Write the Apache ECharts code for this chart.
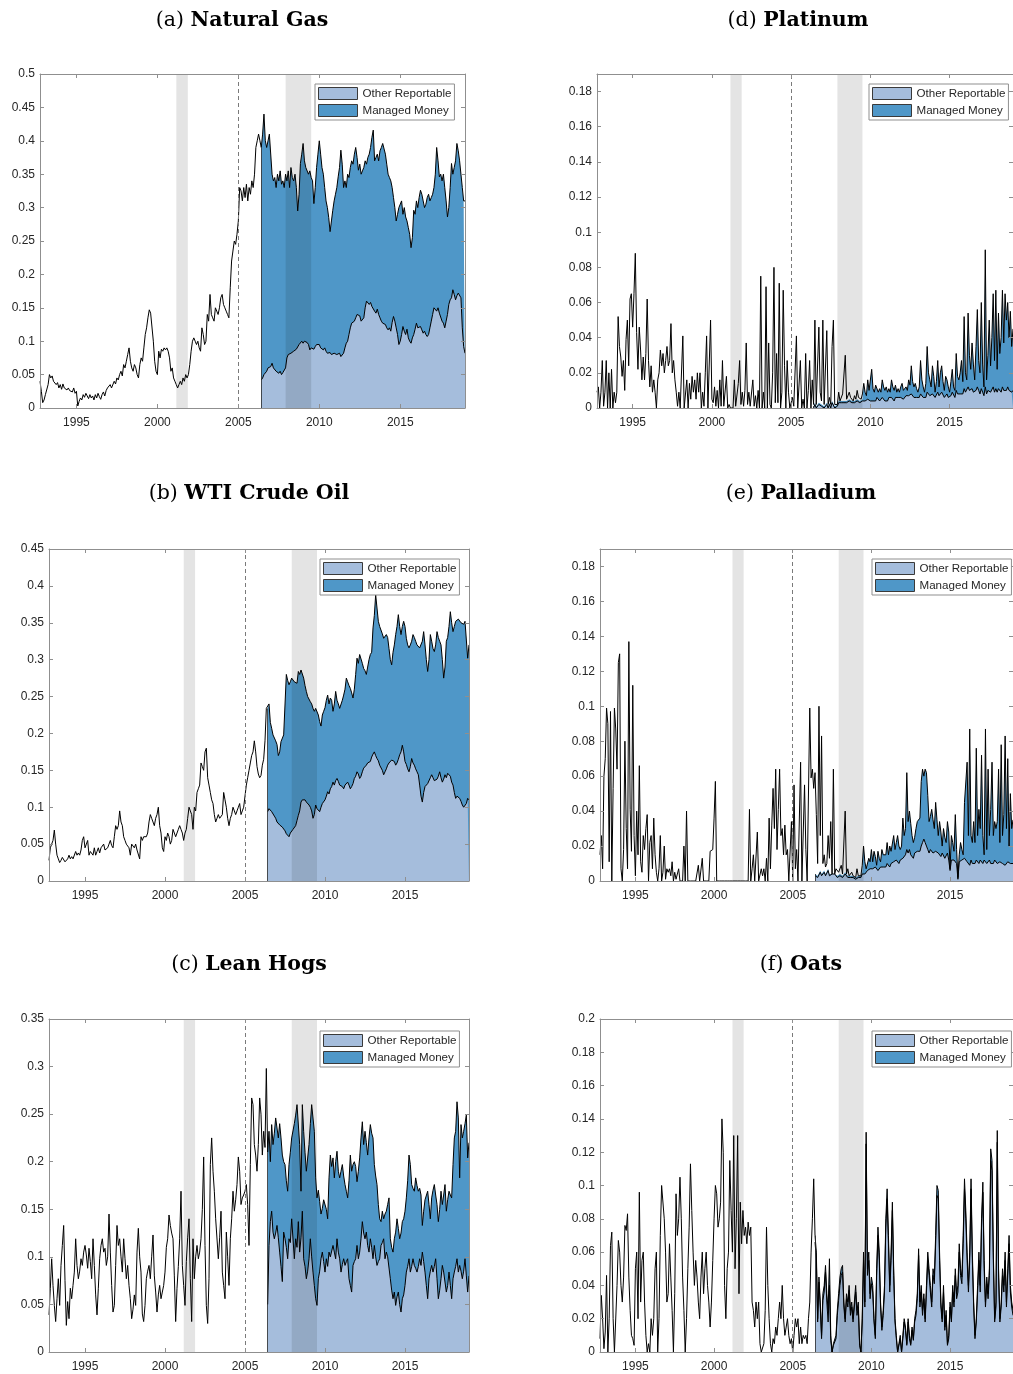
<!DOCTYPE html>
<html>
<head>
<meta charset="utf-8">
<script src="https://cdn.jsdelivr.net/npm/echarts@6/dist/echarts.min.js"></script>
<style>
  html, body { margin: 0; padding: 0; background: #ffffff; }
  #chart { width: 1013px; height: 1374px; }
</style>
</head>
<body>
<div id="chart"></div>
<script>
// Monthly observations from October 1992 to January 2019 (one value per month).
const seriesStart = 1992.75;
// June 2006: first month with the Other Reportable / Managed Money split.
const stackStartIndex = 164;

const yearTicks = [1995, 2000, 2005, 2010, 2015];
const policyYear = 2005;
// NBER recessions: Mar-Nov 2001 and Dec 2007-Jun 2009.
const recessions = [[2001.17, 2001.88], [2007.92, 2009.5]];

const gasTicks  = [0, 0.05, 0.1, 0.15, 0.2, 0.25, 0.3, 0.35, 0.4, 0.45, 0.5];
const wtiTicks  = [0, 0.05, 0.1, 0.15, 0.2, 0.25, 0.3, 0.35, 0.4, 0.45];
const hogsTicks = [0, 0.05, 0.1, 0.15, 0.2, 0.25, 0.3, 0.35];
const platTicks = [0, 0.02, 0.04, 0.06, 0.08, 0.1, 0.12, 0.14, 0.16, 0.18];
const pallTicks = [0, 0.02, 0.04, 0.06, 0.08, 0.1, 0.12, 0.14, 0.16, 0.18];
const oatsTicks = [0, 0.02, 0.04, 0.06, 0.08, 0.1, 0.12, 0.14, 0.16, 0.18, 0.2];

// ---- (a) Natural Gas ----
const gasTotal = [
  0.04, 0.025, 0.008,
  0.012, 0.02, 0.018, 0.035, 0.05, 0.045, 0.048, 0.04, 0.042, 0.035, 0.038, 0.03,
  0.035, 0.028, 0.036, 0.03, 0.032, 0.027, 0.03, 0.026, 0.028, 0.024, 0.03, 0.022,
  0.025, 0.003, 0.01, 0.015, 0.012, 0.02, 0.016, 0.022, 0.018, 0.014, 0.02, 0.015,
  0.018, 0.012, 0.02, 0.015, 0.022, 0.017, 0.013, 0.02, 0.024, 0.018, 0.026, 0.03,
  0.028, 0.035, 0.03, 0.032, 0.04, 0.036, 0.045, 0.042, 0.05, 0.055, 0.048, 0.065,
  0.06, 0.07, 0.08, 0.09, 0.07, 0.06, 0.055, 0.065, 0.06, 0.05, 0.045, 0.065,
  0.075, 0.07, 0.09, 0.11, 0.12, 0.135, 0.147, 0.142, 0.14, 0.1, 0.07, 0.055,
  0.05, 0.085, 0.075, 0.088, 0.085, 0.09, 0.087, 0.09, 0.085, 0.075, 0.055, 0.06,
  0.045, 0.04, 0.035, 0.03, 0.035, 0.04, 0.035, 0.045, 0.04, 0.05, 0.045, 0.05,
  0.065, 0.085, 0.1, 0.105, 0.1, 0.095, 0.1, 0.09, 0.085, 0.12, 0.11, 0.095,
  0.1, 0.14, 0.13, 0.17, 0.14, 0.135, 0.13, 0.15, 0.145, 0.14, 0.15, 0.165,
  0.17, 0.155, 0.15, 0.145, 0.14, 0.135, 0.18, 0.22, 0.235, 0.25, 0.245, 0.26,
  0.28, 0.33, 0.325, 0.31, 0.33, 0.315, 0.335, 0.31, 0.33, 0.32, 0.34, 0.33,
  0.35, 0.39, 0.4, 0.41, 0.4, 0.39, 0.41, 0.44, 0.4, 0.39, 0.4, 0.41,
  0.41, 0.35, 0.34, 0.345, 0.33, 0.35, 0.34, 0.355, 0.335, 0.34, 0.33, 0.35,
  0.34, 0.355, 0.33, 0.36, 0.345, 0.34, 0.35, 0.33, 0.295, 0.32, 0.366, 0.38,
  0.396, 0.37, 0.36, 0.36, 0.35, 0.355, 0.345, 0.34, 0.306, 0.33, 0.36, 0.38,
  0.4, 0.38, 0.36, 0.35, 0.33, 0.31, 0.3, 0.285, 0.264, 0.28, 0.296, 0.31,
  0.32, 0.33, 0.346, 0.36, 0.386, 0.365, 0.33, 0.34, 0.33, 0.35, 0.345, 0.36,
  0.37, 0.365, 0.38, 0.39, 0.375, 0.356, 0.365, 0.35, 0.355, 0.36, 0.37, 0.365,
  0.375, 0.38, 0.39, 0.405, 0.416, 0.37, 0.375, 0.38, 0.37, 0.385, 0.39, 0.396,
  0.396, 0.38, 0.365, 0.35, 0.345, 0.34, 0.33, 0.315, 0.3, 0.28, 0.29, 0.3,
  0.3, 0.31, 0.29, 0.3, 0.286, 0.28, 0.27, 0.26, 0.24, 0.255, 0.296, 0.29,
  0.31, 0.3, 0.315, 0.326, 0.32, 0.31, 0.3, 0.305, 0.315, 0.32, 0.31, 0.315,
  0.32, 0.33, 0.35, 0.39, 0.37, 0.346, 0.35, 0.34, 0.35, 0.33, 0.31, 0.286,
  0.3, 0.33, 0.366, 0.35, 0.36, 0.37, 0.396, 0.385, 0.37, 0.35, 0.33, 0.31,
  0.31
];
const gasOther = [
  0.042, 0.045, 0.05, 0.052, 0.055, 0.06, 0.058,
  0.062, 0.067, 0.06, 0.058, 0.055, 0.057, 0.052, 0.055, 0.05, 0.053, 0.052, 0.06,
  0.075, 0.08, 0.078, 0.082, 0.08, 0.085, 0.083, 0.088, 0.09, 0.095, 0.097, 0.1,
  0.097, 0.1, 0.102, 0.098, 0.095, 0.087, 0.09, 0.092, 0.088, 0.092, 0.095, 0.093,
  0.095, 0.09, 0.092, 0.087, 0.09, 0.085, 0.082, 0.08, 0.083, 0.08, 0.078, 0.082,
  0.082, 0.08, 0.078, 0.082, 0.077, 0.075, 0.082, 0.09, 0.097, 0.1, 0.11, 0.12,
  0.127, 0.125, 0.13, 0.135, 0.14, 0.142, 0.138, 0.13, 0.132, 0.135, 0.15, 0.16,
  0.162, 0.155, 0.158, 0.152, 0.15, 0.145, 0.142, 0.148, 0.14, 0.135, 0.13, 0.127,
  0.127, 0.125, 0.12, 0.117, 0.12, 0.115, 0.128, 0.137, 0.13, 0.12, 0.11, 0.095,
  0.1, 0.11, 0.122, 0.115, 0.11, 0.118, 0.105, 0.1, 0.097, 0.105, 0.11, 0.118,
  0.127, 0.12, 0.118, 0.122, 0.117, 0.112, 0.115, 0.11, 0.107, 0.11, 0.12, 0.13,
  0.14, 0.15, 0.152, 0.145, 0.15, 0.142, 0.14, 0.13, 0.127, 0.12, 0.13, 0.14,
  0.155, 0.162, 0.165, 0.177, 0.17, 0.162, 0.168, 0.172, 0.17, 0.165, 0.12, 0.092,
  0.082
];

// ---- (b) WTI Crude Oil ----
const wtiTotal = [
  0.028, 0.045, 0.05,
  0.055, 0.069, 0.05, 0.035, 0.03, 0.025, 0.028, 0.032, 0.03, 0.026, 0.025, 0.03,
  0.035, 0.03, 0.033, 0.03, 0.028, 0.04, 0.035, 0.038, 0.035, 0.042, 0.055, 0.06,
  0.045, 0.05, 0.055, 0.035, 0.04, 0.04, 0.035, 0.045, 0.035, 0.04, 0.045, 0.038,
  0.045, 0.045, 0.05, 0.042, 0.04, 0.045, 0.05, 0.055, 0.048, 0.045, 0.06, 0.075,
  0.07, 0.075, 0.095, 0.08, 0.075, 0.06, 0.055, 0.05, 0.052, 0.045, 0.035, 0.05,
  0.048, 0.045, 0.05, 0.042, 0.04, 0.03, 0.06, 0.055, 0.06, 0.058, 0.06, 0.065,
  0.08, 0.09, 0.085, 0.08, 0.075, 0.085, 0.09, 0.1, 0.075, 0.065, 0.045, 0.04,
  0.06, 0.055, 0.065, 0.06, 0.05, 0.055, 0.07, 0.065, 0.06, 0.06, 0.07, 0.075,
  0.07, 0.065, 0.055, 0.065, 0.07, 0.085, 0.1, 0.095, 0.09, 0.07, 0.1, 0.095,
  0.12, 0.125, 0.13, 0.16, 0.155, 0.15, 0.175, 0.18, 0.14, 0.13, 0.12, 0.11,
  0.105, 0.09, 0.08, 0.085, 0.09, 0.085, 0.085, 0.09, 0.12, 0.11, 0.1, 0.085,
  0.075, 0.085, 0.09, 0.1, 0.095, 0.09, 0.095, 0.1, 0.105, 0.09, 0.095, 0.1,
  0.1, 0.13, 0.14, 0.15, 0.16, 0.17, 0.175, 0.19, 0.175, 0.155, 0.145, 0.14,
  0.143, 0.157, 0.165, 0.19, 0.234, 0.234, 0.24, 0.215, 0.207, 0.198, 0.2, 0.19,
  0.185, 0.17, 0.175, 0.189, 0.19, 0.198, 0.2, 0.28, 0.272, 0.266, 0.27, 0.275,
  0.275, 0.27, 0.27, 0.268, 0.284, 0.28, 0.286, 0.288, 0.275, 0.265, 0.257, 0.25,
  0.248, 0.243, 0.24, 0.234, 0.23, 0.234, 0.234, 0.225, 0.216, 0.21, 0.225, 0.23,
  0.235, 0.245, 0.252, 0.24, 0.248, 0.245, 0.23, 0.24, 0.257, 0.245, 0.24, 0.234,
  0.234, 0.245, 0.252, 0.26, 0.275, 0.27, 0.265, 0.261, 0.255, 0.248, 0.26, 0.28,
  0.302, 0.295, 0.307, 0.305, 0.295, 0.288, 0.285, 0.28, 0.29, 0.3, 0.307, 0.31,
  0.343, 0.36, 0.388, 0.37, 0.352, 0.345, 0.343, 0.335, 0.329, 0.33, 0.334, 0.33,
  0.315, 0.3, 0.293, 0.31, 0.32, 0.334, 0.345, 0.361, 0.345, 0.334, 0.345, 0.352,
  0.345, 0.329, 0.32, 0.316, 0.32, 0.325, 0.334, 0.33, 0.325, 0.32, 0.318, 0.316,
  0.316, 0.325, 0.338, 0.32, 0.3, 0.284, 0.3, 0.334, 0.325, 0.315, 0.311, 0.32,
  0.338, 0.33, 0.325, 0.32, 0.3, 0.275, 0.29, 0.325, 0.33, 0.345, 0.365, 0.35,
  0.338, 0.345, 0.352, 0.35, 0.355, 0.356, 0.35, 0.352, 0.348, 0.352, 0.35, 0.302,
  0.32
];
const wtiOther = [
  0.094, 0.098, 0.096, 0.094, 0.092, 0.088, 0.085,
  0.08, 0.078, 0.076, 0.075, 0.073, 0.071, 0.068, 0.064, 0.062, 0.06, 0.065, 0.067,
  0.07, 0.071, 0.075, 0.082, 0.089, 0.095, 0.107, 0.11, 0.112, 0.11, 0.107, 0.105,
  0.103, 0.1, 0.095, 0.085, 0.09, 0.103, 0.098, 0.1, 0.094, 0.1, 0.105, 0.107,
  0.11, 0.115, 0.121, 0.118, 0.125, 0.128, 0.134, 0.13, 0.136, 0.139, 0.135, 0.13,
  0.13, 0.128, 0.125, 0.13, 0.128, 0.134, 0.13, 0.125, 0.128, 0.132, 0.139, 0.142,
  0.148, 0.145, 0.139, 0.142, 0.148, 0.153, 0.155, 0.157, 0.16, 0.158, 0.162, 0.168,
  0.172, 0.175, 0.17, 0.166, 0.163, 0.157, 0.155, 0.15, 0.144, 0.148, 0.152, 0.157,
  0.16, 0.162, 0.164, 0.166, 0.162, 0.157, 0.16, 0.165, 0.171, 0.175, 0.184, 0.175,
  0.162, 0.158, 0.152, 0.148, 0.155, 0.166, 0.16, 0.157, 0.152, 0.148, 0.144, 0.13,
  0.115, 0.107, 0.12, 0.128, 0.13, 0.132, 0.134, 0.14, 0.144, 0.14, 0.136, 0.134,
  0.138, 0.142, 0.148, 0.14, 0.134, 0.138, 0.144, 0.14, 0.146, 0.148, 0.142, 0.134,
  0.13, 0.12, 0.112, 0.115, 0.116, 0.112, 0.108, 0.103, 0.1, 0.098, 0.105, 0.112,
  0.11
];

// ---- (c) Lean Hogs ----
const hogsTotal = [
  0.039, 0.067, 0.098,
  0.07, 0.049, 0.032, 0.056, 0.077, 0.049, 0.091, 0.112, 0.133, 0.075, 0.028, 0.053,
  0.035, 0.067, 0.056, 0.07, 0.084, 0.119, 0.091, 0.077, 0.085, 0.098, 0.091, 0.105,
  0.112, 0.102, 0.088, 0.109, 0.095, 0.077, 0.119, 0.091, 0.06, 0.039, 0.067, 0.098,
  0.112, 0.119, 0.105, 0.109, 0.091, 0.1, 0.145, 0.105, 0.07, 0.042, 0.049, 0.091,
  0.133, 0.112, 0.119, 0.1, 0.084, 0.119, 0.098, 0.077, 0.091, 0.07, 0.056, 0.035,
  0.045, 0.06, 0.049, 0.105, 0.13, 0.1, 0.084, 0.04, 0.032, 0.049, 0.077, 0.085,
  0.091, 0.077, 0.1, 0.123, 0.08, 0.063, 0.042, 0.06, 0.07, 0.056, 0.063, 0.07,
  0.084, 0.11, 0.119, 0.144, 0.133, 0.125, 0.119, 0.08, 0.032, 0.067, 0.09, 0.119,
  0.169, 0.091, 0.07, 0.049, 0.095, 0.12, 0.14, 0.077, 0.032, 0.119, 0.077, 0.1,
  0.112, 0.098, 0.105, 0.119, 0.15, 0.205, 0.112, 0.049, 0.03, 0.077, 0.197, 0.225,
  0.19, 0.169, 0.14, 0.14, 0.098, 0.12, 0.148, 0.084, 0.07, 0.056, 0.126, 0.1,
  0.07, 0.119, 0.14, 0.169, 0.148, 0.16, 0.176, 0.205, 0.19, 0.155, 0.162, 0.165,
  0.169, 0.176, 0.155, 0.112, 0.197, 0.267, 0.26, 0.218, 0.207, 0.19, 0.218, 0.267,
  0.25, 0.207, 0.232, 0.215, 0.298, 0.21, 0.232, 0.2, 0.239, 0.218, 0.23, 0.246,
  0.246, 0.225, 0.24, 0.225, 0.207, 0.2, 0.197, 0.18, 0.169, 0.197, 0.21, 0.225,
  0.225, 0.24, 0.249, 0.26, 0.26, 0.218, 0.169, 0.26, 0.232, 0.21, 0.19, 0.19,
  0.218, 0.24, 0.26, 0.258, 0.232, 0.183, 0.162, 0.17, 0.158, 0.145, 0.151, 0.16,
  0.162, 0.15, 0.14, 0.183, 0.207, 0.195, 0.204, 0.183, 0.2, 0.211, 0.19, 0.183,
  0.19, 0.197, 0.185, 0.176, 0.169, 0.162, 0.18, 0.207, 0.19, 0.197, 0.2, 0.195,
  0.179, 0.19, 0.204, 0.225, 0.242, 0.218, 0.232, 0.22, 0.207, 0.225, 0.239, 0.23,
  0.225, 0.197, 0.185, 0.176, 0.155, 0.14, 0.137, 0.148, 0.14, 0.145, 0.148, 0.155,
  0.162, 0.119, 0.11, 0.105, 0.119, 0.126, 0.14, 0.13, 0.119, 0.125, 0.137, 0.14,
  0.148, 0.162, 0.18, 0.207, 0.197, 0.176, 0.172, 0.169, 0.183, 0.175, 0.169, 0.172,
  0.165, 0.133, 0.148, 0.16, 0.162, 0.169, 0.155, 0.14, 0.162, 0.17, 0.176, 0.165,
  0.155, 0.137, 0.15, 0.169, 0.155, 0.165, 0.176, 0.148, 0.16, 0.169, 0.165, 0.162,
  0.197, 0.225, 0.232, 0.263, 0.246, 0.183, 0.239, 0.225, 0.232, 0.24, 0.249, 0.204,
  0.22
];
const hogsOther = [
  0.05, 0.112, 0.137, 0.148, 0.126, 0.119, 0.125,
  0.133, 0.12, 0.105, 0.09, 0.074, 0.126, 0.119, 0.11, 0.098, 0.119, 0.115, 0.14,
  0.14, 0.098, 0.119, 0.11, 0.137, 0.105, 0.12, 0.148, 0.098, 0.09, 0.077, 0.085,
  0.098, 0.119, 0.1, 0.084, 0.07, 0.056, 0.049, 0.077, 0.085, 0.098, 0.105, 0.095,
  0.084, 0.098, 0.09, 0.105, 0.1, 0.098, 0.112, 0.105, 0.098, 0.119, 0.105, 0.098,
  0.084, 0.092, 0.098, 0.091, 0.095, 0.098, 0.077, 0.07, 0.063, 0.091, 0.095, 0.098,
  0.112, 0.098, 0.105, 0.119, 0.137, 0.125, 0.119, 0.126, 0.112, 0.105, 0.119, 0.11,
  0.098, 0.112, 0.1, 0.091, 0.095, 0.098, 0.112, 0.115, 0.119, 0.098, 0.105, 0.1,
  0.098, 0.077, 0.065, 0.056, 0.063, 0.049, 0.058, 0.063, 0.05, 0.042, 0.056, 0.06,
  0.07, 0.084, 0.09, 0.098, 0.084, 0.09, 0.098, 0.091, 0.088, 0.084, 0.09, 0.098,
  0.091, 0.105, 0.095, 0.084, 0.07, 0.056, 0.077, 0.085, 0.091, 0.084, 0.09, 0.098,
  0.077, 0.056, 0.065, 0.077, 0.091, 0.084, 0.084, 0.063, 0.07, 0.084, 0.07, 0.056,
  0.077, 0.084, 0.09, 0.098, 0.084, 0.091, 0.085, 0.077, 0.085, 0.098, 0.08, 0.063,
  0.08
];

// ---- (d) Platinum ----
const platTotal = [
  0.009, 0.012, 0.0,
  0.009, 0.027, 0.001, 0.009, 0.027, 0.0, 0.02, 0.0, 0.022, 0.0, 0.009, 0.003,
  0.009, 0.052, 0.035, 0.029, 0.018, 0.027, 0.01, 0.039, 0.05, 0.024, 0.062, 0.065,
  0.046, 0.065, 0.088, 0.043, 0.022, 0.046, 0.033, 0.016, 0.029, 0.016, 0.031, 0.062,
  0.027, 0.012, 0.024, 0.009, 0.016, 0.009, 0.0, 0.016, 0.02, 0.033, 0.024, 0.031,
  0.02, 0.027, 0.035, 0.024, 0.027, 0.048, 0.02, 0.027, 0.016, 0.009, 0.001, 0.009,
  0.0, 0.0, 0.041, 0.0, 0.001, 0.016, 0.0, 0.014, 0.005, 0.018, 0.009, 0.016,
  0.005, 0.02, 0.009, 0.02, 0.0, 0.009, 0.001, 0.02, 0.041, 0.0, 0.001, 0.05,
  0.005, 0.003, 0.012, 0.001, 0.01, 0.0, 0.016, 0.001, 0.027, 0.001, 0.0, 0.018,
  0.0, 0.002, 0.0, 0.001, 0.0, 0.016, 0.001, 0.0, 0.014, 0.027, 0.002, 0.009,
  0.001, 0.01, 0.037, 0.002, 0.009, 0.001, 0.0, 0.016, 0.001, 0.007, 0.0, 0.01,
  0.0, 0.075, 0.0, 0.009, 0.0, 0.069, 0.0, 0.037, 0.002, 0.0, 0.02, 0.08,
  0.003, 0.031, 0.003, 0.071, 0.0, 0.009, 0.067, 0.024, 0.0, 0.027, 0.009, 0.0,
  0.0, 0.006, 0.001, 0.0, 0.041, 0.0, 0.0, 0.027, 0.0, 0.005, 0.0, 0.031,
  0.0, 0.01, 0.027, 0.0, 0.016, 0.002, 0.05, 0.002, 0.003, 0.046, 0.009, 0.004,
  0.05, 0.002, 0.003, 0.044, 0.002, 0.006, 0.002, 0.035, 0.05, 0.002, 0.003, 0.002,
  0.009, 0.004, 0.005, 0.008, 0.009, 0.03, 0.005, 0.005, 0.009, 0.006, 0.007, 0.004,
  0.007, 0.005, 0.01, 0.006, 0.007, 0.005, 0.008, 0.014, 0.009, 0.007, 0.016, 0.01,
  0.009, 0.022, 0.011, 0.009, 0.013, 0.012, 0.009, 0.011, 0.009, 0.016, 0.012, 0.01,
  0.012, 0.009, 0.011, 0.009, 0.016, 0.012, 0.01, 0.013, 0.009, 0.011, 0.009, 0.012,
  0.014, 0.01, 0.009, 0.012, 0.01, 0.016, 0.013, 0.024, 0.015, 0.012, 0.014, 0.011,
  0.009, 0.012, 0.027, 0.016, 0.012, 0.009, 0.014, 0.035, 0.02, 0.016, 0.012, 0.024,
  0.018, 0.009, 0.015, 0.027, 0.012, 0.02, 0.024, 0.015, 0.01, 0.018, 0.016, 0.012,
  0.009, 0.015, 0.022, 0.012, 0.01, 0.031, 0.018, 0.016, 0.02, 0.027, 0.015, 0.052,
  0.02, 0.016, 0.054, 0.03, 0.022, 0.037, 0.025, 0.016, 0.035, 0.056, 0.027, 0.02,
  0.06, 0.025, 0.012, 0.09, 0.016, 0.03, 0.05, 0.024, 0.04, 0.065, 0.027, 0.067,
  0.022, 0.054, 0.031, 0.04, 0.067, 0.037, 0.065, 0.05, 0.06, 0.04, 0.055, 0.035,
  0.045
];
const platOther = [
  0.0, 0.002, 0.0, 0.001, 0.002, 0.001, 0.001,
  0.002, 0.0, 0.001, 0.002, 0.0, 0.002, 0.0, 0.003, 0.002, 0.0, 0.001, 0.001,
  0.003, 0.002, 0.003, 0.004, 0.003, 0.004, 0.003, 0.002, 0.004, 0.003, 0.003, 0.002,
  0.003, 0.002, 0.004, 0.003, 0.003, 0.002, 0.004, 0.003, 0.004, 0.003, 0.005, 0.004,
  0.004, 0.005, 0.004, 0.005, 0.004, 0.006, 0.005, 0.004, 0.005, 0.006, 0.005, 0.004,
  0.005, 0.004, 0.006, 0.005, 0.006, 0.005, 0.004, 0.006, 0.005, 0.006, 0.005, 0.006,
  0.006, 0.005, 0.006, 0.007, 0.006, 0.007, 0.006, 0.008, 0.007, 0.006, 0.007, 0.006,
  0.005, 0.006, 0.008, 0.007, 0.006, 0.005, 0.006, 0.009, 0.008, 0.007, 0.006, 0.008,
  0.008, 0.006, 0.007, 0.009, 0.007, 0.008, 0.009, 0.008, 0.006, 0.007, 0.008, 0.006,
  0.006, 0.007, 0.009, 0.008, 0.006, 0.01, 0.008, 0.007, 0.008, 0.009, 0.008, 0.011,
  0.009, 0.008, 0.012, 0.01, 0.009, 0.011, 0.009, 0.008, 0.01, 0.012, 0.01, 0.008,
  0.011, 0.009, 0.007, 0.012, 0.008, 0.01, 0.011, 0.009, 0.01, 0.012, 0.009, 0.011,
  0.009, 0.011, 0.01, 0.009, 0.012, 0.01, 0.011, 0.01, 0.012, 0.01, 0.011, 0.009,
  0.01
];
// Other Reportable + Managed Money, June 2006 to July 2009 (the two groups
// only reach the spikes of the combined share later in the sample).
const platStackEarly = [
  0.001, 0.003, 0.001, 0.002, 0.003, 0.002, 0.002,
  0.003, 0.001, 0.002, 0.003, 0.001, 0.003, 0.001, 0.004, 0.003, 0.001, 0.002, 0.002,
  0.004, 0.003, 0.004, 0.005, 0.004, 0.005, 0.004, 0.003, 0.005, 0.004, 0.004, 0.003,
  0.004, 0.003, 0.005, 0.004, 0.004, 0.003, 0.005
];

// ---- (e) Palladium ----
const pallTotal = [
  0.015, 0.026, 0.007,
  0.06, 0.07, 0.099, 0.09, 0.011, 0.097, 0.0, 0.053, 0.099, 0.087, 0.064, 0.125,
  0.13, 0.007, 0.0, 0.018, 0.08, 0.03, 0.007, 0.137, 0.041, 0.017, 0.112, 0.026,
  0.003, 0.04, 0.015, 0.066, 0.011, 0.005, 0.026, 0.018, 0.03, 0.038, 0.0, 0.022,
  0.026, 0.007, 0.036, 0.015, 0.005, 0.0, 0.007, 0.026, 0.0, 0.005, 0.02, 0.001,
  0.007, 0.005, 0.007, 0.003, 0.011, 0.0, 0.005, 0.001, 0.0, 0.007, 0.0, 0.0,
  0.0, 0.02, 0.0, 0.04, 0.0, 0.0, 0.0, 0.0, 0.0, 0.0, 0.0, 0.0,
  0.009, 0.0, 0.0, 0.013, 0.0, 0.0, 0.0, 0.0, 0.0, 0.017, 0.017, 0.018,
  0.036, 0.057, 0.0, 0.0, 0.0, 0.0, 0.0, 0.0, 0.0, 0.0, 0.0, 0.0,
  0.0, 0.0, 0.0, 0.0, 0.0, 0.0, 0.0, 0.0, 0.0, 0.0, 0.0, 0.0,
  0.0, 0.0, 0.0, 0.041, 0.0, 0.007, 0.015, 0.0, 0.0, 0.028, 0.0, 0.0,
  0.007, 0.003, 0.007, 0.0, 0.013, 0.0, 0.036, 0.007, 0.032, 0.053, 0.03, 0.064,
  0.018, 0.041, 0.064, 0.026, 0.03, 0.015, 0.032, 0.015, 0.018, 0.0, 0.0, 0.034,
  0.0, 0.055, 0.007, 0.018, 0.0, 0.0, 0.068, 0.0, 0.0, 0.055, 0.018, 0.0,
  0.0, 0.099, 0.059, 0.064, 0.053, 0.062, 0.038, 0.01, 0.1, 0.026, 0.083, 0.01,
  0.015, 0.008, 0.01, 0.026, 0.013, 0.034, 0.004, 0.064, 0.004, 0.007, 0.006, 0.005,
  0.005, 0.009, 0.004, 0.003, 0.04, 0.004, 0.007, 0.003, 0.004, 0.005, 0.003, 0.002,
  0.002, 0.007, 0.003, 0.004, 0.003, 0.009, 0.02, 0.011, 0.007, 0.008, 0.013, 0.011,
  0.018, 0.011, 0.017, 0.014, 0.009, 0.017, 0.013, 0.011, 0.018, 0.015, 0.016, 0.015,
  0.022, 0.015, 0.02, 0.017, 0.017, 0.026, 0.018, 0.022, 0.026, 0.02, 0.018, 0.02,
  0.036, 0.026, 0.03, 0.062, 0.034, 0.04, 0.033, 0.026, 0.022, 0.025, 0.03, 0.034,
  0.034, 0.036, 0.057, 0.064, 0.06, 0.064, 0.062, 0.049, 0.034, 0.037, 0.041, 0.035,
  0.03, 0.045, 0.035, 0.026, 0.034, 0.028, 0.02, 0.03, 0.025, 0.022, 0.034, 0.028,
  0.007, 0.026, 0.022, 0.017, 0.038, 0.018, 0.002, 0.015, 0.022, 0.018, 0.015, 0.045,
  0.045, 0.068, 0.026, 0.087, 0.026, 0.022, 0.034, 0.022, 0.076, 0.026, 0.041, 0.03,
  0.072, 0.026, 0.015, 0.087, 0.018, 0.064, 0.026, 0.041, 0.068, 0.026, 0.034, 0.03,
  0.034, 0.064, 0.022, 0.078, 0.026, 0.038, 0.083, 0.03, 0.07, 0.02, 0.05, 0.03,
  0.035
];
const pallOther = [
  0.003, 0.004, 0.002, 0.003, 0.005, 0.003, 0.004,
  0.005, 0.003, 0.004, 0.006, 0.003, 0.002, 0.004, 0.003, 0.004, 0.003, 0.002, 0.003,
  0.003, 0.004, 0.002, 0.003, 0.004, 0.003, 0.002, 0.003, 0.002, 0.003, 0.002, 0.001,
  0.001, 0.002, 0.002, 0.003, 0.002, 0.004, 0.005, 0.004, 0.005, 0.006, 0.005, 0.007,
  0.008, 0.007, 0.006, 0.008, 0.007, 0.006, 0.007, 0.008, 0.007, 0.008, 0.009, 0.008,
  0.01, 0.009, 0.008, 0.01, 0.009, 0.011, 0.01, 0.012, 0.011, 0.01, 0.012, 0.011,
  0.013, 0.012, 0.015, 0.018, 0.016, 0.018, 0.015, 0.014, 0.013, 0.016, 0.015, 0.017,
  0.018, 0.017, 0.02, 0.022, 0.024, 0.022, 0.02, 0.018, 0.016, 0.018, 0.017, 0.016,
  0.015, 0.017, 0.018, 0.016, 0.015, 0.014, 0.016, 0.015, 0.013, 0.014, 0.016, 0.012,
  0.006, 0.012, 0.011, 0.012, 0.012, 0.01, 0.001, 0.011, 0.01, 0.012, 0.011, 0.013,
  0.012, 0.011, 0.01, 0.009, 0.012, 0.01, 0.011, 0.01, 0.012, 0.011, 0.01, 0.012,
  0.011, 0.01, 0.012, 0.011, 0.01, 0.009, 0.012, 0.01, 0.011, 0.01, 0.012, 0.011,
  0.01, 0.009, 0.011, 0.012, 0.01, 0.011, 0.009, 0.01, 0.011, 0.012, 0.01, 0.011,
  0.01
];
// Other Reportable + Managed Money, June 2006 to June 2009.
const pallStackEarly = [
  0.004, 0.005, 0.003, 0.004, 0.006, 0.004, 0.005,
  0.006, 0.004, 0.005, 0.007, 0.004, 0.003, 0.004, 0.004, 0.004, 0.004, 0.003, 0.004,
  0.004, 0.005, 0.003, 0.003, 0.005, 0.004, 0.003, 0.003, 0.003, 0.004, 0.003, 0.002,
  0.002, 0.003, 0.003, 0.004, 0.003, 0.005
];

// ---- (f) Oats ----
const oatsTotal = [
  0.008, 0.034, 0.02,
  0.002, 0.012, 0.046, 0.0, 0.02, 0.064, 0.072, 0.02, 0.0, 0.0, 0.04, 0.067,
  0.06, 0.04, 0.03, 0.045, 0.076, 0.073, 0.083, 0.045, 0.025, 0.01, 0.008, 0.004,
  0.05, 0.06, 0.02, 0.096, 0.03, 0.055, 0.06, 0.03, 0.01, 0.0, 0.005, 0.0,
  0.02, 0.01, 0.02, 0.05, 0.06, 0.0, 0.02, 0.07, 0.1, 0.1, 0.08, 0.06,
  0.03, 0.035, 0.065, 0.045, 0.025, 0.0, 0.035, 0.095, 0.07, 0.08, 0.105, 0.08,
  0.045, 0.025, 0.0, 0.02, 0.05, 0.075, 0.113, 0.085, 0.06, 0.04, 0.055, 0.045,
  0.03, 0.02, 0.045, 0.06, 0.035, 0.05, 0.06, 0.04, 0.03, 0.015, 0.03, 0.055,
  0.08, 0.1, 0.095, 0.075, 0.08, 0.09, 0.14, 0.12, 0.04, 0.02, 0.05, 0.06,
  0.115, 0.085, 0.06, 0.13, 0.05, 0.08, 0.13, 0.035, 0.09, 0.065, 0.085, 0.07,
  0.075, 0.065, 0.078, 0.07, 0.075, 0.03, 0.025, 0.015, 0.03, 0.02, 0.03, 0.005,
  0.0, 0.0, 0.005, 0.025, 0.075, 0.04, 0.02, 0.005, 0.0, 0.008, 0.005, 0.015,
  0.01, 0.02, 0.03, 0.02, 0.04, 0.02, 0.01, 0.015, 0.02, 0.01, 0.005, 0.008,
  0.0, 0.01, 0.02, 0.015, 0.02, 0.005, 0.015, 0.005, 0.01, 0.008, 0.01, 0.005,
  0.02, 0.03, 0.06, 0.08, 0.104, 0.07, 0.06, 0.02, 0.045, 0.03, 0.01, 0.035,
  0.04, 0.052, 0.035, 0.025, 0.056, 0.01, 0.0, 0.005, 0.004, 0.01, 0.025, 0.035,
  0.045, 0.05, 0.052, 0.03, 0.02, 0.035, 0.03, 0.04, 0.025, 0.03, 0.02, 0.03,
  0.04, 0.025, 0.03, 0.005, 0.0, 0.02, 0.06, 0.03, 0.132, 0.05, 0.06, 0.035,
  0.045, 0.04, 0.02, 0.01, 0.05, 0.075, 0.06, 0.03, 0.015, 0.025, 0.04, 0.08,
  0.098, 0.07, 0.04, 0.06, 0.09, 0.05, 0.02, 0.01, 0.0, 0.005, 0.01, 0.0,
  0.01, 0.02, 0.015, 0.005, 0.02, 0.01, 0.005, 0.015, 0.008, 0.02, 0.025, 0.035,
  0.062, 0.03, 0.04, 0.025, 0.035, 0.02, 0.04, 0.06, 0.05, 0.04, 0.03, 0.05,
  0.045, 0.07, 0.1, 0.097, 0.06, 0.03, 0.02, 0.04, 0.015, 0.025, 0.005, 0.01,
  0.03, 0.02, 0.04, 0.03, 0.05, 0.035, 0.04, 0.065, 0.05, 0.045, 0.07, 0.104,
  0.085, 0.06, 0.04, 0.06, 0.104, 0.06, 0.03, 0.01, 0.02, 0.04, 0.06, 0.04,
  0.08, 0.102, 0.055, 0.03, 0.045, 0.035, 0.05, 0.122, 0.115, 0.06, 0.02, 0.03,
  0.133, 0.05, 0.02, 0.03, 0.05, 0.04, 0.06, 0.03, 0.05, 0.07, 0.04, 0.03,
  0.025
];
const oatsOther = [
  0.066, 0.056, 0.018, 0.042, 0.027, 0.008, 0.031,
  0.036, 0.048, 0.03, 0.018, 0.04, 0.007, 0.0, 0.004, 0.003, 0.008, 0.022, 0.031,
  0.04, 0.046, 0.048, 0.027, 0.018, 0.032, 0.027, 0.037, 0.022, 0.027, 0.018, 0.027,
  0.036, 0.022, 0.027, 0.004, 0.0, 0.018, 0.055, 0.027, 0.125, 0.046, 0.055, 0.032,
  0.041, 0.036, 0.018, 0.008, 0.046, 0.07, 0.055, 0.027, 0.013, 0.022, 0.036, 0.075,
  0.092, 0.065, 0.036, 0.055, 0.085, 0.046, 0.018, 0.008, 0.0, 0.004, 0.008, 0.0,
  0.008, 0.018, 0.013, 0.004, 0.018, 0.008, 0.004, 0.013, 0.007, 0.018, 0.022, 0.032,
  0.058, 0.027, 0.036, 0.022, 0.032, 0.018, 0.036, 0.055, 0.046, 0.036, 0.027, 0.046,
  0.041, 0.065, 0.094, 0.092, 0.055, 0.027, 0.018, 0.036, 0.013, 0.022, 0.004, 0.008,
  0.027, 0.018, 0.036, 0.027, 0.046, 0.032, 0.036, 0.06, 0.046, 0.041, 0.065, 0.098,
  0.08, 0.055, 0.036, 0.055, 0.098, 0.055, 0.027, 0.008, 0.018, 0.036, 0.055, 0.036,
  0.075, 0.096, 0.05, 0.027, 0.041, 0.032, 0.046, 0.115, 0.109, 0.055, 0.018, 0.027,
  0.126, 0.045, 0.018, 0.027, 0.046, 0.036, 0.055, 0.027, 0.046, 0.065, 0.036, 0.027,
  0.022
];

// ---------------- chart construction ----------------
const OTHER_COLOR = '#a5bddc';
const MANAGED_COLOR = '#4f97c8';
const FRAME_COLOR = '#8f8f8f';
const LABEL_COLOR = '#262626';
const SANS = 'Liberation Sans, Arial, sans-serif';
const SERIF = 'DejaVu Serif, serif';

// Top of the stacked bands: the combined share, except where an early
// stack segment is given for the months it differs.
function stackTop(total, early) {
  const tail = total.slice(stackStartIndex + early.length);
  return early.concat(tail);
}

const panels = [
  { tag: '(a)', title: 'Natural Gas',   total: gasTotal,  other: gasOther,  stack: stackTop(gasTotal, []),
    ticks: gasTicks,  ymax: 0.5,
    grid: { left: 40,  top: 74,   width: 425, height: 334 }, legend: { left: 315, top: 84 },   titleAt: [242, 19] },
  { tag: '(b)', title: 'WTI Crude Oil', total: wtiTotal,  other: wtiOther,  stack: stackTop(wtiTotal, []),
    ticks: wtiTicks,  ymax: 0.45,
    grid: { left: 49,  top: 549,  width: 420, height: 332 }, legend: { left: 320, top: 559 },  titleAt: [249, 492] },
  { tag: '(c)', title: 'Lean Hogs',     total: hogsTotal, other: hogsOther, stack: stackTop(hogsTotal, []),
    ticks: hogsTicks, ymax: 0.35,
    grid: { left: 49,  top: 1019, width: 420, height: 333 }, legend: { left: 320, top: 1031 }, titleAt: [249, 963] },
  { tag: '(d)', title: 'Platinum',      total: platTotal, other: platOther, stack: stackTop(platTotal, platStackEarly),
    ticks: platTicks, ymax: 0.19,
    grid: { left: 597, top: 74,   width: 424, height: 334 }, legend: { left: 869, top: 84 },   titleAt: [798, 19] },
  { tag: '(e)', title: 'Palladium',     total: pallTotal, other: pallOther, stack: stackTop(pallTotal, pallStackEarly),
    ticks: pallTicks, ymax: 0.19,
    grid: { left: 600, top: 549,  width: 421, height: 332 }, legend: { left: 872, top: 559 },  titleAt: [801, 492] },
  { tag: '(f)', title: 'Oats',          total: oatsTotal, other: oatsOther, stack: stackTop(oatsTotal, []),
    ticks: oatsTicks, ymax: 0.2,
    grid: { left: 600, top: 1019, width: 421, height: 333 }, legend: { left: 872, top: 1031 }, titleAt: [801, 963] }
];

const xMin = seriesStart;
const xMax = 2019.0;

function toPoints(values, startIndex) {
  return values.map((v, i) => [seriesStart + (startIndex + i) / 12, v]);
}

const grids = [], xAxes = [], yAxes = [], series = [], legends = [], titles = [];

panels.forEach((p, k) => {
  grids.push(Object.assign({ show: false, containLabel: false }, p.grid));

  const tickStyle = { show: true, inside: true, length: 4, lineStyle: { color: FRAME_COLOR, width: 1 } };
  const lineStyle = { show: true, onZero: false, lineStyle: { color: FRAME_COLOR, width: 1 } };

  xAxes.push({
    gridIndex: k, type: 'value', position: 'bottom', min: xMin, max: xMax, z: 6,
    axisLine: lineStyle,
    axisTick: Object.assign({ customValues: yearTicks }, tickStyle),
    axisLabel: { customValues: yearTicks, color: LABEL_COLOR, fontFamily: SANS, fontSize: 12, margin: 9,
                 formatter: v => String(v) },
    splitLine: { show: false }
  });
  xAxes.push({
    gridIndex: k, type: 'value', position: 'top', min: xMin, max: xMax, z: 6,
    axisLine: lineStyle,
    axisTick: Object.assign({ customValues: yearTicks }, tickStyle),
    axisLabel: { show: false },
    splitLine: { show: false }
  });
  yAxes.push({
    gridIndex: k, type: 'value', position: 'left', min: 0, max: p.ymax, z: 6,
    axisLine: lineStyle,
    axisTick: Object.assign({ customValues: p.ticks }, tickStyle),
    axisLabel: { customValues: p.ticks, color: LABEL_COLOR, fontFamily: SANS, fontSize: 12, margin: 5,
                 formatter: v => String(v) },
    splitLine: { show: false }
  });
  yAxes.push({
    gridIndex: k, type: 'value', position: 'right', min: 0, max: p.ymax, z: 6,
    axisLine: lineStyle,
    axisTick: Object.assign({ customValues: p.ticks }, tickStyle),
    axisLabel: { show: false },
    splitLine: { show: false }
  });

  const xi = 2 * k, yi = 2 * k;
  const stackX = seriesStart + stackStartIndex / 12;

  // Managed Money band: filled from the axis up to the top of the stack
  series.push({
    type: 'line', name: 'Managed Money', xAxisIndex: xi, yAxisIndex: yi,
    data: toPoints(p.stack, stackStartIndex),
    symbol: 'none', silent: true, z: 1,
    lineStyle: { width: 0 },
    areaStyle: { color: MANAGED_COLOR, opacity: 1 },
    markLine: {
      silent: true, symbol: ['none', 'none'], label: { show: false },
      lineStyle: { color: '#2a2a2a', width: 0.8, type: 'solid' },
      data: [[{ coord: [stackX, 0] }, { coord: [stackX, p.stack[0]] }]]
    }
  });
  // Other Reportable band, drawn over the lower part
  series.push({
    type: 'line', name: 'Other Reportable', xAxisIndex: xi, yAxisIndex: yi,
    data: toPoints(p.other, stackStartIndex),
    symbol: 'none', silent: true, z: 1,
    lineStyle: { width: 0 },
    areaStyle: { color: OTHER_COLOR, opacity: 1 }
  });
  // Recession shading
  series.push({
    type: 'custom', name: 'Recession', xAxisIndex: xi, yAxisIndex: yi,
    data: recessions, encode: { x: [0, 1] }, silent: true, z: 2,
    renderItem: (params, api) => {
      const cs = params.coordSys;
      const a = api.coord([api.value(0), 0])[0];
      const b = api.coord([api.value(1), 0])[0];
      return { type: 'rect', shape: { x: a, y: cs.y, width: b - a, height: cs.height },
               style: { fill: 'rgba(0,0,0,0.105)' } };
    }
  });
  // Combined speculative share (full sample)
  series.push({
    type: 'line', name: 'Speculative share', xAxisIndex: xi, yAxisIndex: yi,
    data: toPoints(p.total, 0),
    symbol: 'none', silent: true, z: 3,
    lineStyle: { color: '#000000', width: 1 },
    markLine: {
      silent: true, symbol: ['none', 'none'], label: { show: false },
      lineStyle: { color: '#7a7a7a', width: 1, type: [4, 3] },
      data: [{ xAxis: policyYear }]
    }
  });
  // Edge of the Other Reportable band
  series.push({
    type: 'line', name: 'Other Reportable edge', xAxisIndex: xi, yAxisIndex: yi,
    data: toPoints(p.other, stackStartIndex),
    symbol: 'none', silent: true, z: 3,
    lineStyle: { color: '#000000', width: 1 }
  });

  legends.push({
    left: p.legend.left, top: p.legend.top, orient: 'vertical', z: 10,
    selectedMode: false,
    data: [
      { name: 'Other Reportable', icon: 'rect', itemStyle: { color: OTHER_COLOR, borderColor: '#3a3a3a', borderWidth: 1 } },
      { name: 'Managed Money', icon: 'rect', itemStyle: { color: MANAGED_COLOR, borderColor: '#3a3a3a', borderWidth: 1 } }
    ],
    itemWidth: 39, itemHeight: 12, itemGap: 4,
    padding: [3, 3, 3, 3],
    borderColor: FRAME_COLOR, borderWidth: 1, backgroundColor: '#ffffff',
    textStyle: { fontFamily: SANS, fontSize: 11.6, color: LABEL_COLOR }
  });

  titles.push({
    type: 'text', x: p.titleAt[0], y: p.titleAt[1] + 2,
    style: {
      text: '{t|' + p.tag + ' }{n|' + p.title + '}',
      align: 'center', verticalAlign: 'middle',
      rich: {
        t: { fontFamily: SERIF, fontSize: 20.5, fill: '#000000' },
        n: { fontFamily: SERIF, fontSize: 20.5, fontWeight: 'bold', fill: '#000000' }
      }
    }
  });
});

const chart = echarts.init(document.getElementById('chart'), null, { renderer: 'canvas' });
chart.setOption({
  animation: false,
  backgroundColor: '#ffffff',
  grid: grids,
  xAxis: xAxes,
  yAxis: yAxes,
  legend: legends,
  series: series,
  graphic: titles
});
</script>
</body>
</html>
